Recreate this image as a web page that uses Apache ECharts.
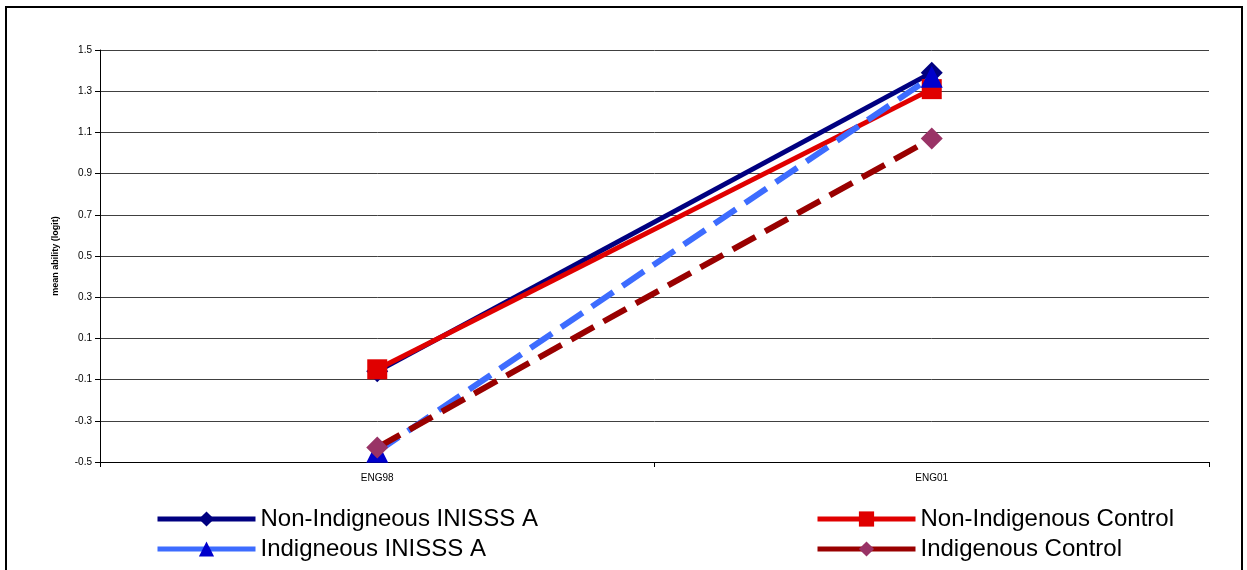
<!DOCTYPE html>
<html>
<head>
<meta charset="utf-8">
<script src="https://cdn.jsdelivr.net/npm/echarts@6/dist/echarts.min.js"></script>
<style>
  html, body { margin: 0; padding: 0; background: #ffffff; }
  #chart { width: 1247px; height: 570px; }
</style>
</head>
<body>
<div id="chart"></div>
<script>
// Test occasions on the x axis
const categories = ['ENG98', 'ENG01'];

// Mean ability (logit) per group
const nonIndigInisss = [-0.06, 1.39];
const nonIndigControl = [-0.05, 1.31];
const indigInisss = [-0.45, 1.37];
const indigControl = [-0.43, 1.07];

// Series names
const names = [
  'Non-Indigneous INISSS A',
  'Non-Indigenous Control',
  'Indigneous INISSS A',
  'Indigenous Control'
];

const FONT = 'Liberation Sans, Arial, sans-serif';
const chart = echarts.init(document.getElementById('chart'), null, { renderer: 'canvas' });

const dashed = [26, 11];

function legendBlock(left, items) {
  return {
    orient: 'vertical',
    left: left,
    top: 507,
    padding: 0,
    itemWidth: 98,
    itemHeight: 19,
    itemGap: 6,
    textStyle: { color: '#000000', fontFamily: FONT, fontSize: 24 },
    data: items.map(n => ({ name: n, lineStyle: { type: 'solid', width: 5 } }))
  };
}

chart.setOption({
  animation: false,
  backgroundColor: '#ffffff',
  graphic: [{
    type: 'rect',
    shape: { x: 6, y: 7, width: 1236, height: 620 },
    style: { fill: 'none', stroke: '#000000', lineWidth: 2 },
    z: 100
  }],
  grid: { left: 100, right: 38, top: 50, bottom: 108, containLabel: false },
  xAxis: {
    type: 'category',
    data: categories,
    boundaryGap: true,
    axisLine: { onZero: false, lineStyle: { color: '#000000', width: 1 } },
    axisTick: { show: true, length: 5, lineStyle: { color: '#000000' } },
    axisLabel: { color: '#000000', fontFamily: FONT, fontSize: 10, margin: 11 },
    splitLine: { show: false }
  },
  yAxis: {
    type: 'value',
    min: -0.5,
    max: 1.5,
    interval: 0.2,
    name: 'mean ability (logit)',
    nameLocation: 'middle',
    nameGap: 40,
    nameRotate: 90,
    nameTextStyle: { color: '#000000', fontFamily: FONT, fontSize: 9, fontWeight: 'bold' },
    axisLine: { show: true, lineStyle: { color: '#000000', width: 1 } },
    axisTick: { show: true, length: 5, lineStyle: { color: '#000000' } },
    axisLabel: {
      color: '#000000', fontFamily: FONT, fontSize: 10, margin: 8,
      formatter: v => v.toFixed(1)
    },
    splitLine: { show: true, lineStyle: { color: '#404040', width: 1 } }
  },
  legend: [
    legendBlock(155, [names[0], names[2]]),
    legendBlock(815, [names[1], names[3]])
  ],
  series: [{
    name: names[0],
    type: 'line',
    data: nonIndigInisss,
    symbol: 'diamond',
    symbolSize: 22,
    lineStyle: { color: '#000080', width: 5 },
    itemStyle: { color: '#000080' }
  }, {
    name: names[1],
    type: 'line',
    data: nonIndigControl,
    symbol: 'rect',
    symbolSize: 20,
    lineStyle: { color: '#e00000', width: 5 },
    itemStyle: { color: '#e00000' }
  }, {
    name: names[2],
    type: 'line',
    data: indigInisss,
    symbol: 'triangle',
    symbolSize: 22,
    lineStyle: { color: '#3d6cff', width: 6, type: dashed },
    itemStyle: { color: '#0000cc' }
  }, {
    name: names[3],
    type: 'line',
    data: indigControl,
    symbol: 'diamond',
    symbolSize: 22,
    lineStyle: { color: '#990000', width: 6, type: dashed },
    itemStyle: { color: '#993366' }
  }]
});
</script>
</body>
</html>
